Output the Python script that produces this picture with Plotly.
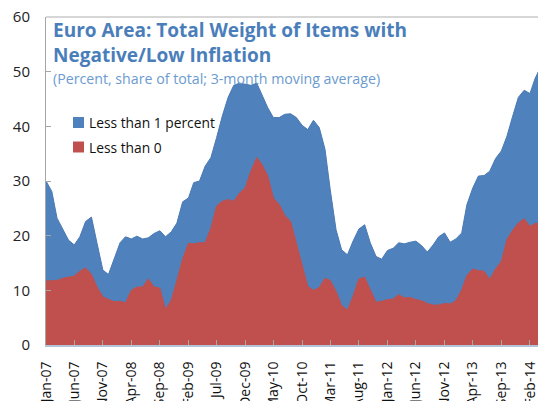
import pandas as pd
import plotly.graph_objects as go

# Monthly data, Jan-2007 onward (percent, share of total; 3-month moving average)
months = pd.date_range("2007-01-01", periods=88, freq="MS")

less_than_1 = [
    30.0, 28.1, 23.2, 21.2, 19.2, 18.3, 19.8, 22.6, 23.4, 18.6, 13.7, 12.9,
    15.8, 18.7, 19.8, 19.4, 19.9, 19.4, 19.6, 20.4, 20.9, 19.8, 20.7, 22.3,
    26.2, 26.9, 29.7, 30.0, 32.7, 34.3, 37.9, 41.9, 45.3, 47.5, 47.9, 47.7,
    47.5, 47.9, 45.6, 43.4, 41.6, 41.6, 42.2, 42.3, 41.6, 40.2, 39.4, 41.1,
    39.8, 35.8, 28.4, 21.1, 17.4, 16.5, 19.0, 21.2, 22.0, 18.7, 16.2, 15.7,
    17.3, 17.7, 18.7, 18.5, 18.8, 19.0, 18.2, 17.0, 18.3, 19.8, 20.5, 18.8,
    19.4, 20.5, 25.7, 28.7, 30.9, 31.0, 31.8, 34.1, 35.5, 38.2, 41.9, 45.3,
    46.6, 46.0, 48.8, 51.0,
]
less_than_0 = [
    11.7, 11.8, 11.8, 12.2, 12.4, 12.6, 13.5, 14.1, 12.9, 10.6, 8.8, 8.3,
    7.9, 8.0, 7.7, 10.0, 10.6, 10.6, 12.1, 10.6, 10.4, 6.5, 8.2, 11.8,
    15.8, 18.6, 18.5, 18.7, 18.7, 21.4, 25.4, 26.3, 26.6, 26.3, 27.8, 28.7,
    31.8, 34.3, 33.0, 30.9, 26.9, 25.7, 23.7, 22.6, 18.7, 14.4, 10.7, 10.0,
    10.5, 12.2, 11.8, 9.8, 7.2, 6.4, 8.9, 12.1, 12.4, 10.1, 7.8, 8.0,
    8.3, 8.4, 9.2, 8.6, 8.7, 8.3, 8.1, 7.6, 7.3, 7.3, 7.6, 7.5,
    8.1, 10.1, 12.7, 13.9, 13.6, 13.5, 12.0, 13.9, 15.3, 19.3, 21.0, 22.3,
    23.1, 21.7, 22.2, 22.4,
]

series_names = ["Less than 1 percent", "Less than 0"]
title_lines = ["Euro Area: Total Weight of Items with", "Negative/Low Inflation"]
subtitle = "(Percent, share of total; 3-month moving average)"

BLUE = "#4f81bd"
RED = "#c0504d"
TITLE_BLUE = "#4a7ebb"
SUB_BLUE = "#6b9bd0"
FONT = "Open Sans"

fig = go.Figure()
fig.add_trace(go.Scatter(
    x=months, y=less_than_1, name=series_names[0], mode="lines",
    fill="tozeroy", fillcolor=BLUE, line=dict(color="#4a79b2", width=1),
    showlegend=False, hoverinfo="skip",
))
fig.add_trace(go.Scatter(
    x=months, y=less_than_0, name=series_names[1], mode="lines",
    fill="tozeroy", fillcolor=RED, line=dict(color=RED, width=1),
    showlegend=False, hoverinfo="skip",
))

W, H = 538, 401
L, R, T, B = 46, 0, 17, 56
pw, ph = W - L - R, H - T - B


def px(x):  # page pixel -> paper
    return (x - L) / pw


def py(y):
    return 1 - (y - T) / ph


annotations = [
    dict(text=f"<b>{title_lines[0]}</b>", x=px(51), y=py(30),
         font=dict(size=19, color=TITLE_BLUE, family=FONT)),
    dict(text=f"<b>{title_lines[1]}</b>", x=px(51), y=py(55),
         font=dict(size=19, color=TITLE_BLUE, family=FONT)),
    dict(text=subtitle, x=px(51), y=py(79),
         font=dict(size=14.2, color=SUB_BLUE, family=FONT)),
    dict(text=series_names[0], x=px(87), y=py(122.5),
         font=dict(size=13.8, color="#111111", family=FONT)),
    dict(text=series_names[1], x=px(87), y=py(147),
         font=dict(size=13.8, color="#111111", family=FONT)),
]
for a in annotations:
    a.update(xref="paper", yref="paper", xanchor="left", yanchor="middle",
             showarrow=False)

shapes = [
    dict(type="rect", xref="paper", yref="paper", x0=px(73), x1=px(84),
         y0=py(128), y1=py(117), fillcolor=BLUE, line=dict(width=0)),
    dict(type="rect", xref="paper", yref="paper", x0=px(73), x1=px(84),
         y0=py(152.5), y1=py(141.5), fillcolor=RED, line=dict(width=0)),
    dict(type="line", xref="paper", yref="paper", x0=0, x1=1, y0=1, y1=1,
         line=dict(color="#c8c8c8", width=1.5)),
]

fig.update_layout(
    width=W, height=H,
    margin=dict(l=L, r=R, t=T, b=B, autoexpand=False),
    paper_bgcolor="white", plot_bgcolor="white",
    font=dict(family=FONT, color="#222222"),
    annotations=annotations, shapes=shapes,
    showlegend=False,
)
fig.update_xaxes(
    type="date", range=["2007-01-01", "2014-03-16"],
    tick0="2007-01-01", dtick="M5", tickformat="%b-%y",
    tickangle=-90, ticks="inside", ticklen=5, tickcolor="#a6a6a6",
    tickfont=dict(size=14, color="#111111", family=FONT),
    ticklabelstandoff=9, ticklabeloverflow="allow", automargin=False,
    showline=True, linecolor="#b4c4d8", linewidth=2,
    showgrid=False, zeroline=False,
)
fig.update_yaxes(
    range=[0, 60], dtick=10, tick0=0,
    ticks="inside", ticklen=5, tickcolor="#a6a6a6",
    tickfont=dict(size=15, color="#222222", family=FONT),
    ticklabelstandoff=12, ticklabeloverflow="allow", automargin=False,
    showline=True, linecolor="#a6a6a6", linewidth=1,
    showgrid=False, zeroline=False,
)

fig.write_html(
    "out.html",
    config={"displayModeBar": False, "staticPlot": True},
    post_script="document.body.style.margin='0';"
                "document.body.style.overflow='hidden';",
)
